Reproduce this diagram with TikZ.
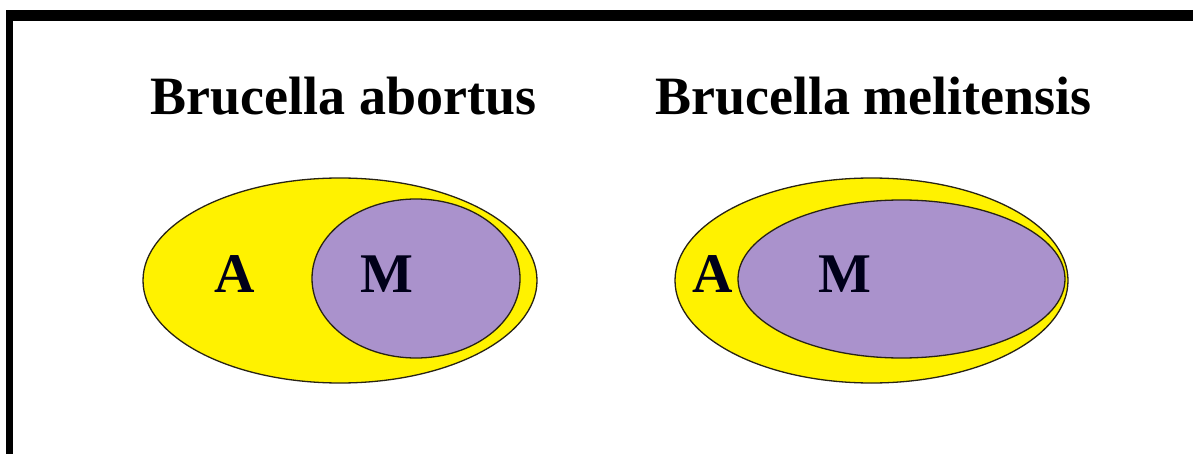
\documentclass[tikz,border=0pt]{standalone}
\usepackage{fontspec}
\setmainfont{Liberation Serif}
\usetikzlibrary{shapes.geometric}
\definecolor{venyellow}{RGB}{255,242,0}
\definecolor{venpurple}{RGB}{170,146,204}
\definecolor{venline}{RGB}{40,35,20}
\tikzset{
  outerset/.style={ellipse, draw=venline, line width=1.3pt, fill=venyellow, inner sep=0pt},
  innerset/.style={ellipse, draw=venline, line width=1.3pt, fill=venpurple, inner sep=0pt},
  title/.style={anchor=base, font=\fontsize{54}{60}\selectfont\bfseries, inner sep=0pt},
  setlabel/.style={anchor=base, font=\fontsize{56}{60}\selectfont\bfseries, inner sep=0pt, text=black!90!blue}
}
\begin{document}
\begin{tikzpicture}[x=1pt,y=-1pt]
\useasboundingbox (0,0) rectangle (1193,454);
\fill[white] (0,0) rectangle (1193,454);
% frame (top and left edges visible)
\fill[black] (6,10) rectangle (1193,21);
\fill[black] (6,10) rectangle (13,454);
% titles
\node[title] (t1) at (343.5,115) {Brucella abortus};
\node[title] (t2) at (873.5,115) {Brucella melitensis};
% left diagram
\node[outerset, minimum width=394pt, minimum height=205pt] (oa) at (340,280.5) {};
\node[innerset, minimum width=208pt, minimum height=159pt] (ia) at (416,278.5) {};
\node[setlabel] (la) at (234.5,292) {A};
\node[setlabel] (ma) at (386.5,292) {M};
% right diagram
\node[outerset, minimum width=393pt, minimum height=205pt] (ob) at (871.5,280.5) {};
\node[innerset, minimum width=327pt, minimum height=158pt] (ib) at (901.5,279) {};
\node[setlabel] (lb) at (712.5,292) {A};
\node[setlabel] (mb) at (845,292) {M};
\end{tikzpicture}
\end{document}
